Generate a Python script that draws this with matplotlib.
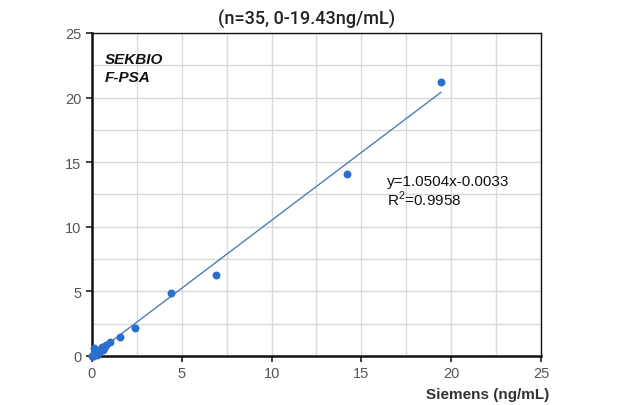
import matplotlib
matplotlib.use("Agg")
import matplotlib.pyplot as plt
import numpy as np

plt.rcParams["font.family"] = ["Liberation Sans", "DejaVu Sans"]
plt.rcParams["mathtext.fontset"] = "custom"
plt.rcParams["mathtext.rm"] = "Liberation Sans"

siemens = [19.45, 14.2, 6.9, 4.4, 2.4, 1.55, 1.0,
           0.13, 0.54, 0.69, 0.39, 0.26, 0.07, 0.6, 0.75, 0.45, 0.3, 0.2,
           0.15, 0.1, 0.05, 0.35, 0.5, 0.8, 0.02, 0.12, 0.22, 0.28, 0.42,
           0.58, 0.65, 0.04, 0.09, 0.18, 0.33]
sekbio = [21.2, 14.1, 6.3, 4.85, 2.2, 1.45, 1.1,
          0.6, 0.7, 0.6, 0.3, 0.1, 0.02, 0.45, 0.8, 0.5, 0.35, 0.2,
          0.15, 0.12, 0.05, 0.4, 0.55, 0.85, 0.01, 0.1, 0.25, 0.3, 0.42,
          0.62, 0.7, 0.03, 0.08, 0.18, 0.33]
slope = 1.0504
intercept = -0.0033
x_max = 19.43
x_ticks = [0, 5, 10, 15, 20, 25]
y_ticks = [0, 5, 10, 15, 20, 25]

fig = plt.figure(figsize=(6.31, 4.06), dpi=100)
ax = fig.add_axes([0.1458, 0.1207, 0.7115, 0.7956])

ax.set_xlim(0, 25)
ax.set_ylim(0, 25)
ax.set_xticks(x_ticks)
ax.set_yticks(y_ticks)
ax.set_xticks(np.arange(0, 25.01, 2.5), minor=True)
ax.set_yticks(np.arange(0, 25.01, 2.5), minor=True)
ax.grid(which="both", color="#d9d9d9", linewidth=1.0)
ax.set_axisbelow(True)
ax.tick_params(which="minor", length=0)
ax.tick_params(which="major", length=4, width=1.2, color="#222222",
               labelcolor="#555555", labelsize=10.5, direction="out")
for s in ax.spines.values():
    s.set_color("#111111")
    s.set_linewidth(1.0)
ax.spines["left"].set_linewidth(1.8)
ax.spines["bottom"].set_linewidth(1.8)

xs = np.array([0, x_max])
ax.plot(xs, slope * xs + intercept, color="#4a7ebb", linewidth=1.0, zorder=2)
ax.scatter(siemens, sekbio, s=22, color="#2a6fcf", zorder=3, clip_on=False)

fig.text(0.4865, 0.952, "(n=35, 0-19.43ng/mL)", ha="center", va="center",
         fontsize=13, fontweight="medium", family=["Roboto", "Liberation Sans"],
         color="#222222")
fig.text(0.772, 0.027, "Siemens (ng/mL)", ha="center", va="center",
         fontsize=11, fontweight="bold", color="#333333")
ax.text(0.028, 0.94, "SEKBIO\nF-PSA", transform=ax.transAxes, ha="left", va="top",
        fontsize=11, fontweight="bold", fontstyle="italic", color="#111111",
        linespacing=1.3)
ax.text(0.657, 0.51, "y=1.0504x-0.0033\nR$^2$=0.9958", transform=ax.transAxes,
        ha="left", va="center", fontsize=11, color="#111111", linespacing=1.05)

fig.savefig("out.png", dpi=100)
